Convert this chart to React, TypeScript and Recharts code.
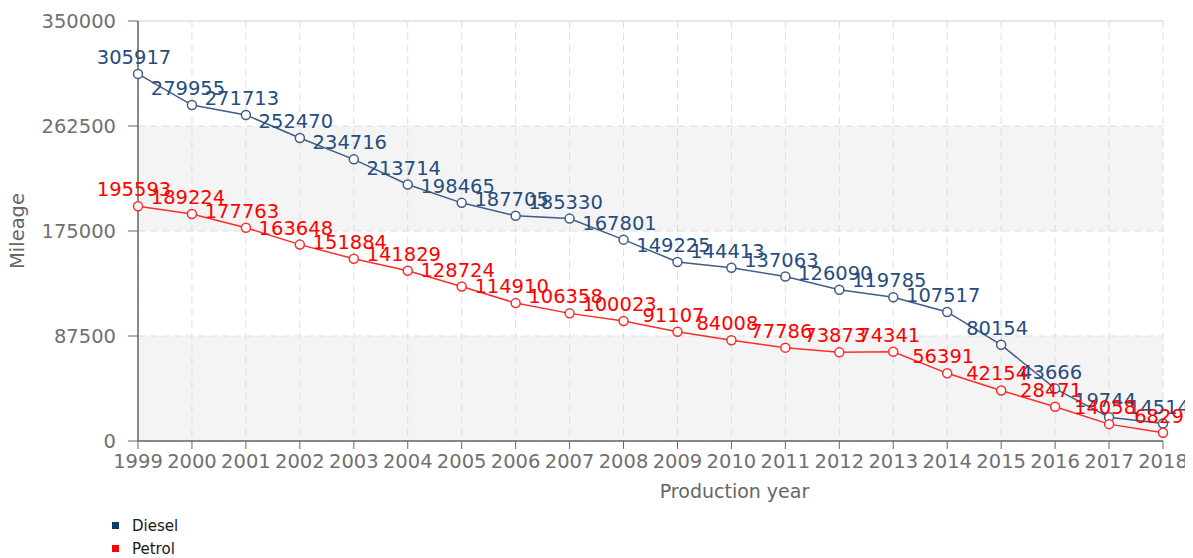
import React from 'react';
import { LineChart, Line, XAxis, YAxis, CartesianGrid, LabelList, Legend, ReferenceLine } from 'recharts';

const years = ['1999','2000','2001','2002','2003','2004','2005','2006','2007','2008','2009','2010','2011','2012','2013','2014','2015','2016','2017','2018'];
const diesel = [305917,279955,271713,252470,234716,213714,198465,187705,185330,167801,149225,144413,137063,126090,119785,107517,80154,43666,19744,14514];
const petrol = [195593,189224,177763,163648,151884,141829,128724,114910,106358,100023,91107,84008,77786,73873,74341,56391,42154,28471,14058,6829];
const yTicks = [0, 87500, 175000, 262500, 350000];

const data = years.map((y, i) => ({ year: y, diesel: diesel[i], petrol: petrol[i] }));

const FONT = '"DejaVu Sans", Verdana, sans-serif';
const DIESEL_LINE = '#3e5d88';
const DIESEL_TEXT = '#264d7e';
const PETROL_LINE = '#ff2b2b';
const PETROL_TEXT = '#ff0000';

const makeLabel = (color: string) => (props: any) => {
  const { x, y, value } = props;
  return (
    <text x={x - 4} y={y - 10} textAnchor="middle" fill={color} fontSize={19.5} fontFamily={FONT}>
      {value}
    </text>
  );
};

const YLabel = (props: any) => {
  const vb = props.viewBox || {};
  const cx = 9;
  const cy = vb.y + vb.height / 2;
  return (
    <text x={cx} y={cy} transform={`rotate(-90 ${cx} ${cy})`} textAnchor="middle" dominantBaseline="central" fill="#666" fontSize={19.5} fontFamily={FONT}>
      Mileage
    </text>
  );
};

const XLabel = (props: any) => {
  const vb = props.viewBox || {};
  const cx = vb.x + vb.width / 2 + 84;
  return (
    <text x={cx} y={vb.y + 57} textAnchor="middle" fill="#666" fontSize={19} fontFamily={FONT}>
      Production year
    </text>
  );
};

const LegendContent = () => (
  <div style={{ fontFamily: FONT, fontSize: 15, color: '#1a1a1a' }}>
    {[
      { name: 'Diesel', color: '#0d3b6e' },
      { name: 'Petrol', color: '#ff0000' },
    ].map((it) => (
      <div key={it.name} style={{ display: 'flex', alignItems: 'center', height: 23.3 }}>
        <span style={{ display: 'inline-block', width: 7, height: 7, background: it.color, marginRight: 13 }} />
        <span>{it.name}</span>
      </div>
    ))}
  </div>
);

export default function App() {
  return (
    <LineChart width={1185} height={550} data={data} margin={{ top: 13, right: 30, left: 0, bottom: 47 }}>
      <CartesianGrid strokeDasharray="7 5" stroke="#dddddd" horizontalFill={['#ffffff', '#f4f4f4']} />
      <ReferenceLine y={350000} stroke="#e2e2e2" strokeWidth={1.5} />
      <XAxis
        dataKey="year"
        interval={0}
        tickSize={8}
        tickMargin={5}
        height={70}
        stroke="#666"
        tick={{ fill: '#707070', fontSize: 19.5, fontFamily: FONT }}
        tickLine={{ stroke: '#666' }}
        axisLine={{ stroke: '#666', strokeWidth: 1.5 }}
        label={<XLabel />}
      />
      <YAxis
        width={130}
        domain={[0, 350000]}
        ticks={yTicks}
        interval={0}
        tickSize={10}
        tickMargin={12}
        stroke="#666"
        tick={{ fill: '#707070', fontSize: 19.5, fontFamily: FONT }}
        axisLine={{ stroke: '#666', strokeWidth: 1.5 }}
        tickLine={{ stroke: '#666' }}
        label={<YLabel />}
      />
      <Line dataKey="diesel" stroke={DIESEL_LINE} strokeWidth={1.5} dot={false} activeDot={false} isAnimationActive={false} legendType="none" />
      <Line dataKey="petrol" stroke={PETROL_LINE} strokeWidth={1.5} dot={false} activeDot={false} isAnimationActive={false} legendType="none" />
      <Line dataKey="diesel" stroke="none" dot={false} activeDot={false} isAnimationActive={false} legendType="none">
        <LabelList dataKey="diesel" content={makeLabel(DIESEL_TEXT)} />
      </Line>
      <Line dataKey="petrol" stroke="none" dot={false} activeDot={false} isAnimationActive={false} legendType="none">
        <LabelList dataKey="petrol" content={makeLabel(PETROL_TEXT)} />
      </Line>
      <Line dataKey="diesel" stroke="none" dot={{ r: 4.5, fill: '#ffffff', stroke: DIESEL_LINE, strokeWidth: 1.5 }} activeDot={false} isAnimationActive={false} legendType="none" />
      <Line dataKey="petrol" stroke="none" dot={{ r: 4.5, fill: '#ffffff', stroke: PETROL_LINE, strokeWidth: 1.5 }} activeDot={false} isAnimationActive={false} legendType="none" />
      <Legend
        layout="vertical"
        align="center"
        verticalAlign="middle"
        content={<LegendContent />}
        wrapperStyle={{ left: 104, top: 506, width: 150, height: 47 }}
      />
    </LineChart>
  );
}
